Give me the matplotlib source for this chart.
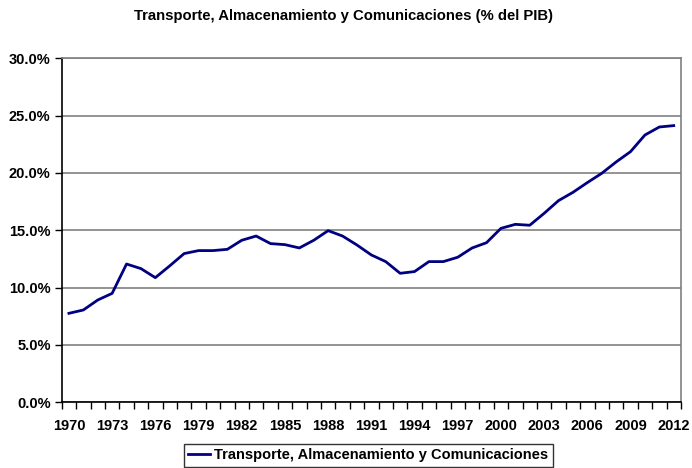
import matplotlib
matplotlib.use("Agg")
import matplotlib.pyplot as plt
from matplotlib.ticker import FuncFormatter, MultipleLocator

# years and share of GDP (%)
years = list(range(1970, 2013))
share = [7.76, 8.05, 8.92, 9.5, 12.06, 11.66, 10.87, 11.9, 12.97, 13.23,
         13.23, 13.34, 14.13, 14.5, 13.84, 13.75, 13.46, 14.13, 14.97, 14.5,
         13.72, 12.85, 12.27, 11.25, 11.4, 12.27, 12.27, 12.65, 13.46, 13.92,
         15.17, 15.52, 15.44, 16.48, 17.59, 18.31, 19.16, 19.97, 20.96, 21.86,
         23.31, 24.01, 24.13]
series_name = "Transporte, Almacenamiento y Comunicaciones"
title = "Transporte, Almacenamiento y Comunicaciones (% del PIB)"

plt.rcParams["font.family"] = ["Liberation Sans", "DejaVu Sans"]
plt.rcParams["font.weight"] = "bold"

fig = plt.figure(figsize=(6.92, 4.68), dpi=100)
ax = fig.add_axes([0.0892, 0.1404, 0.8948, 0.735])

x = list(range(len(years)))
ax.plot(x, share, color="#000080", lw=2, label=series_name)

ax.set_xlim(-0.5, len(years) - 0.5)
ax.set_ylim(0, 30)
ax.yaxis.set_major_locator(MultipleLocator(5))
ax.yaxis.set_major_formatter(FuncFormatter(lambda v, p: f"{v:.1f}%"))
ax.grid(axis="y", color="#808080", lw=1.2)
ax.set_axisbelow(True)

# category ticks between years, labels every 3 years
ax.set_xticks([i - 0.5 for i in range(len(years) + 1)], minor=False)
ax.set_xticklabels([])
ax.set_xticks(x[::3], minor=True)
ax.set_xticklabels([str(y) for y in years[::3]], minor=True)
ax.tick_params(axis="x", which="major", length=5, width=1, direction="out")
ax.tick_params(axis="x", which="minor", length=0, pad=12, labelsize=10.5)
ax.tick_params(axis="y", length=5, width=1, labelsize=10.5, pad=3)

ax.spines["left"].set_color("black")
ax.spines["bottom"].set_color("black")
ax.spines["right"].set_color("#808080")
ax.spines["top"].set_color("#808080")
for s in ax.spines.values():
    s.set_linewidth(1.2)

fig.text(0.497, 0.965, title, ha="center", va="center", fontsize=10.75, fontweight="bold")

leg = fig.legend(loc="center", bbox_to_anchor=(0.532, 0.027), frameon=True,
                 fancybox=False, edgecolor="black", fontsize=10.5,
                 handlelength=1.5, handletextpad=0.3, borderpad=0.3)
leg.get_frame().set_linewidth(1)

fig.savefig("out.png", dpi=100)
